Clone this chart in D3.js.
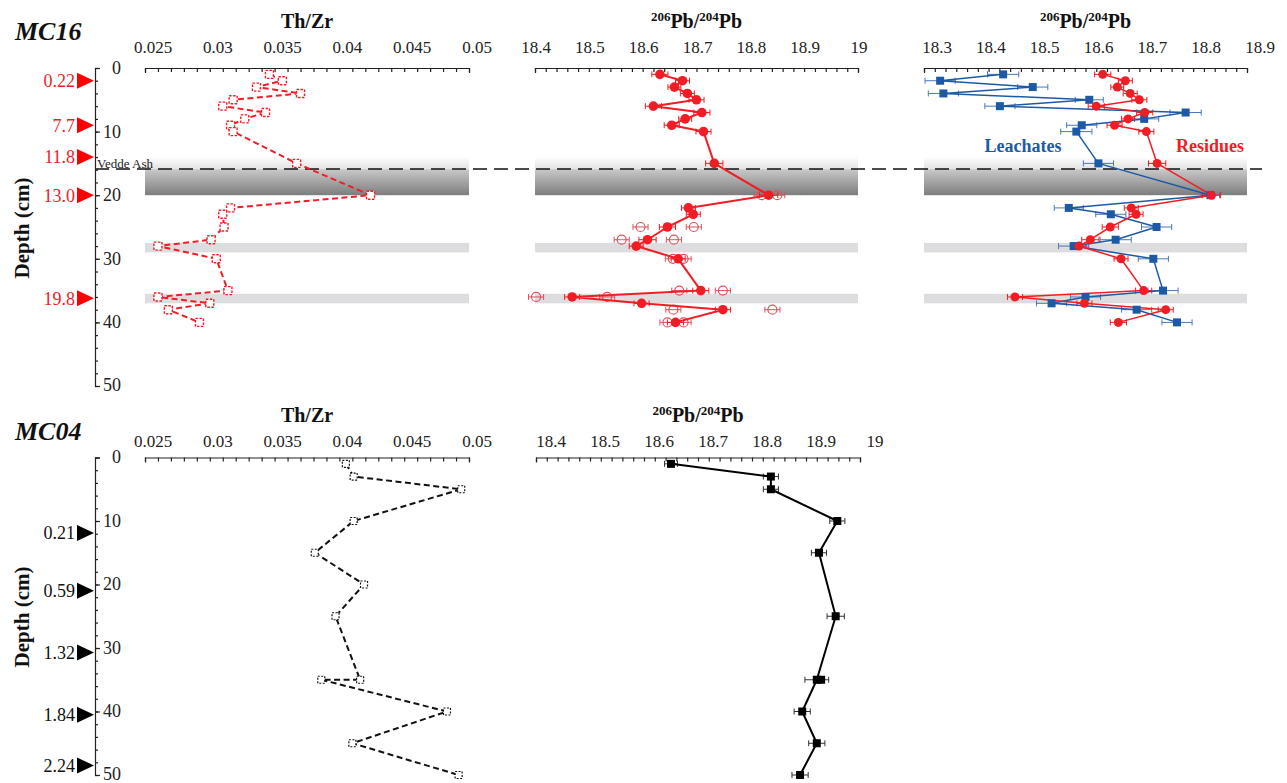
<!DOCTYPE html>
<html><head><meta charset="utf-8">
<script src="https://cdn.jsdelivr.net/npm/d3@7"></script>
<style>
body{margin:0;background:#fff}
svg{display:block}
text{font-family:"Liberation Serif","Times New Roman",serif}
</style>
</head><body>
<svg id="c" width="1287" height="783"></svg>
<script>
// ---------------- DATA ----------------
const depthTicks = [0, 10, 20, 30, 40, 50];
const depthMinor = [0,2,4,6,8,10,12,14,16,18,20,22,24,26,28,30,32,34,36,38,40,42,44,46,48,50];
const thzrTicks = [0.025, 0.03, 0.035, 0.04, 0.045, 0.05];
const thzrTickLabels = ["0.025", "0.03", "0.035", "0.04", "0.045", "0.05"];
const pbTicksA = [18.4, 18.5, 18.6, 18.7, 18.8, 18.9, 19];
const pbTickLabelsA = ["18.4", "18.5", "18.6", "18.7", "18.8", "18.9", "19"];
const pbTicksB = [18.3, 18.4, 18.5, 18.6, 18.7, 18.8, 18.9];
const pbTickLabelsB = ["18.3", "18.4", "18.5", "18.6", "18.7", "18.8", "18.9"];

// MC16
const mc16Depth = [1,2,3,4,5,6,7,8,9,10,15,20,22,23,25,27,28,30,35,36,37,38,40];
const mc16ThZr = [0.0346,0.0356,0.0336,0.0370,0.0318,0.0310,0.0343,0.0327,0.0316,0.0318,0.0367,0.0424,
                  0.0316,0.0310,0.0311,0.0301,0.0260,0.0305,0.0314,0.0260,0.0300,0.0268,0.0292];
const mc16Residue = [18.632,18.674,18.659,18.683,18.700,18.620,18.710,18.679,18.654,18.713,18.733,18.834,
                     18.685,18.694,18.646,18.609,18.588,18.666,18.708,18.469,18.598,18.749,18.661];
const mc16ResidueErr = [0.015,0.013,0.012,0.013,0.014,0.015,0.015,0.012,0.014,0.014,0.016,0.017,
                        0.013,0.013,0.015,0.016,0.013,0.013,0.015,0.014,0.014,0.014,0.015];
const mc16Leachate = [18.447,18.330,18.502,18.336,18.607,18.441,18.786,18.709,18.593,18.583,18.624,18.832,
                      18.569,18.647,18.732,18.656,18.578,18.726,18.744,18.600,18.537,18.695,18.770];
const mc16LeachateErr = [0.029,0.028,0.028,0.028,0.026,0.028,0.029,0.027,0.028,0.029,0.028,0.017,
                         0.027,0.028,0.028,0.029,0.028,0.028,0.028,0.028,0.028,0.028,0.028];
const mc16RepDepth = [20,20,25,25,27,27,30,30,35,35,36,36,38,38,40,40];
const mc16Replicate = [18.821,18.850,18.596,18.695,18.561,18.658,18.656,18.676,18.668,18.749,18.402,18.534,18.657,18.841,18.646,18.676];
const mc16AgeDepth = [2, 9, 14, 20, 36.2];
const mc16AgeLabels = ["0.22", "7.7", "11.8", "13.0", "19.8"];
const veddeBand = [13.9, 15.9, 20];       // top of fade, ash line, bottom
const greyBands = [[27.5, 29], [35.5, 37]];

// MC04
const mc04ThZrDepth = [1,3,5,10,15,20,25,35,35,40,45,50];
const mc04ThZr = [0.0405,0.0411,0.0494,0.0411,0.0381,0.0419,0.0397,0.0416,0.0386,0.0483,0.0410,0.0492];
const mc04PbDepth = [1,3,5,10,15,25,35,40,45,50];
const mc04Pb = [18.650,18.835,18.835,18.958,18.924,18.955,18.920,18.893,18.920,18.889];
const mc04PbErr = [0.012,0.014,0.014,0.014,0.014,0.016,0.022,0.015,0.015,0.015];
const mc04PbRepDepth = [35];
const mc04PbRep = [18.928];
const mc04AgeDepth = [11.9, 21, 30.7, 40.5, 48.5];
const mc04AgeLabels = ["0.21", "0.59", "1.32", "1.84", "2.24"];

// ---------------- DRAW ----------------
const svg = d3.select("#c");
const RED = "#f21c24", BLUE = "#1d5aa6";

const yTop = d3.scaleLinear().domain([0, 50]).range([68, 386]);
const yBot = d3.scaleLinear().domain([0, 50]).range([457.5, 775]);

const xThZrTop = d3.scaleLinear().domain([0.025, 0.05]).range([145, 469]);
const xPbTop = d3.scaleLinear().domain([18.4, 19]).range([535, 858]);
const xPbRight = d3.scaleLinear().domain([18.3, 18.9]).range([924, 1247]);
const xThZrBot = d3.scaleLinear().domain([0.025, 0.05]).range([145, 469]);
const xPbBot = d3.scaleLinear().domain([18.4, 19]).range([536, 860]);

const defs = svg.append("defs");
const g1 = defs.append("linearGradient").attr("id", "fadeTop").attr("x1", 0).attr("x2", 0).attr("y1", 0).attr("y2", 1);
g1.append("stop").attr("offset", "0%").attr("stop-color", "#ffffff");
g1.append("stop").attr("offset", "100%").attr("stop-color", "#e2e2e2");
const g2 = defs.append("linearGradient").attr("id", "fadeBot").attr("x1", 0).attr("x2", 0).attr("y1", 0).attr("y2", 1);
g2.append("stop").attr("offset", "0%").attr("stop-color", "#c9c9c9");
g2.append("stop").attr("offset", "100%").attr("stop-color", "#7d7d7d");

function bands(x) {
  const [a, b] = x.range();
  svg.append("rect").attr("x", a).attr("width", b - a)
    .attr("y", yTop(veddeBand[0])).attr("height", yTop(veddeBand[1]) - yTop(veddeBand[0]))
    .attr("fill", "url(#fadeTop)");
  svg.append("rect").attr("x", a).attr("width", b - a)
    .attr("y", yTop(veddeBand[1])).attr("height", yTop(veddeBand[2]) - yTop(veddeBand[1]))
    .attr("fill", "url(#fadeBot)");
  greyBands.forEach(([d0, d1]) => {
    svg.append("rect").attr("x", a).attr("width", b - a)
      .attr("y", yTop(d0)).attr("height", yTop(d1) - yTop(d0)).attr("fill", "#dddddf");
  });
}
bands(xThZrTop); bands(xPbTop); bands(xPbRight);

// Vedde Ash line
svg.append("line").attr("x1", 95).attr("x2", 1262)
  .attr("y1", yTop(veddeBand[1])).attr("y2", yTop(veddeBand[1]))
  .attr("stroke", "#111").attr("stroke-width", 1.5).attr("stroke-dasharray", "14,7");
svg.append("text").attr("x", 97).attr("y", yTop(veddeBand[1]) - 1.5)
  .attr("font-size", 13).attr("fill", "#222").text("Vedde Ash");

// X axes
function xAxis(x, ticks, labels, yAxisLine, labelY, minorStep, dx, title, titleY, isPb) {
  const [d0, d1] = x.domain();
  const minor = d3.range(Math.round((d1 - d0) / minorStep) + 1).map(i => d0 + i * minorStep);
  svg.append("g").attr("transform", `translate(0,${yAxisLine})`)
    .call(d3.axisBottom(x).tickValues(minor).tickSize(4).tickSizeOuter(5).tickFormat(""))
    .call(g => g.selectAll("path,line").attr("stroke", "#222").attr("stroke-width", 1.2));
  svg.append("g").selectAll("text").data(ticks).join("text")
    .attr("x", (d) => x(d) + dx).attr("y", labelY)
    .attr("text-anchor", "middle").attr("font-size", 17).attr("fill", "#222")
    .text((d, i) => labels[i]);
  const cx = (x.range()[0] + x.range()[1]) / 2;
  const t = svg.append("text").attr("x", cx).attr("y", titleY).attr("text-anchor", "middle")
    .attr("font-weight", "bold").attr("font-size", 20).attr("fill", "#111");
  if (isPb) {
    t.append("tspan").attr("font-size", 13).attr("dy", -7).text("206");
    t.append("tspan").attr("font-size", 20).attr("dy", 7).text("Pb/");
    t.append("tspan").attr("font-size", 13).attr("dy", -7).text("204");
    t.append("tspan").attr("font-size", 20).attr("dy", 7).text("Pb");
  } else {
    t.text(title);
  }
}
xAxis(xThZrTop, thzrTicks, thzrTickLabels, 68, 53, 0.001, 8, "Th/Zr", 28, false);
xAxis(xPbTop, pbTicksA, pbTickLabelsA, 68, 53, 0.02, 1, "", 28, true);
xAxis(xPbRight, pbTicksB, pbTickLabelsB, 68, 53, 0.02, 13, "", 28, true);
xAxis(xThZrBot, thzrTicks, thzrTickLabels, 457.5, 447, 0.001, 8, "Th/Zr", 422, false);
xAxis(xPbBot, pbTicksA, pbTickLabelsA, 457.5, 447, 0.02, 15, "", 422, true);

// Y axes
function yAxis(y, ageDepth, ageLabels, ageColor, triColor, name, nameY, depthCy) {
  svg.append("g").attr("transform", "translate(95,0)")
    .call(d3.axisRight(y).tickValues(depthMinor).tickSize(3).tickSizeOuter(5).tickFormat(""))
    .call(g => g.selectAll("path,line").attr("stroke", "#222").attr("stroke-width", 1.2));
  svg.append("g").attr("transform", "translate(95,0)")
    .call(d3.axisRight(y).tickValues(depthTicks).tickSize(5).tickSizeOuter(0).tickFormat(""))
    .call(g => g.select("path").remove())
    .call(g => g.selectAll("line").attr("stroke", "#222").attr("stroke-width", 1.2));
  svg.append("g").selectAll("text").data(depthTicks).join("text")
    .attr("x", 121).attr("y", d => y(d)).attr("dy", d => d === 50 ? "0.25em" : "0.33em")
    .attr("text-anchor", "end").attr("font-size", 18).attr("fill", "#222").text(d => d);
  // age triangles
  svg.append("g").selectAll("path").data(ageDepth).join("path")
    .attr("d", d => `M${94},${y(d)} L${77},${y(d) - 8} L${77},${y(d) + 8} Z`)
    .attr("fill", triColor);
  svg.append("g").selectAll("text").data(ageDepth).join("text")
    .attr("x", 75).attr("y", d => y(d)).attr("dy", "0.35em")
    .attr("text-anchor", "end").attr("font-size", 18).attr("fill", ageColor)
    .text((d, i) => ageLabels[i]);
  svg.append("text").attr("x", 15).attr("y", nameY)
    .attr("font-size", 26).attr("font-weight", "bold").attr("font-style", "italic").attr("fill", "#111")
    .text(name);
  svg.append("text").attr("transform", `translate(29,${depthCy}) rotate(-90)`)
    .attr("text-anchor", "middle").attr("font-size", 21).attr("font-weight", "bold").attr("fill", "#111")
    .text("Depth (cm)");
}
yAxis(yTop, mc16AgeDepth, mc16AgeLabels, RED, "#ff0000", "MC16", 40, 228);
yAxis(yBot, mc04AgeDepth, mc04AgeLabels, "#111", "#000", "MC04", 440, 617);

// helpers
function errBars(x, y, depths, vals, errs, color, w) {
  const g = svg.append("g").attr("stroke", color).attr("stroke-width", w).attr("fill", "none");
  depths.forEach((d, i) => {
    const yy = y(d), a = x(vals[i] - errs[i]), b = x(vals[i] + errs[i]);
    g.append("line").attr("x1", a).attr("x2", b).attr("y1", yy).attr("y2", yy);
    g.append("line").attr("x1", a).attr("x2", a).attr("y1", yy - 3).attr("y2", yy + 3);
    g.append("line").attr("x1", b).attr("x2", b).attr("y1", yy - 3).attr("y2", yy + 3);
  });
}
function pathLine(x, y, depths, vals, color, w, dash) {
  const line = d3.line().x((d, i) => x(vals[i])).y(d => y(d));
  svg.append("path").attr("d", line(depths)).attr("fill", "none")
    .attr("stroke", color).attr("stroke-width", w).attr("stroke-dasharray", dash || null)
    .attr("stroke-linejoin", "round");
}
function squares(x, y, depths, vals, size, fill, stroke, sw, dash) {
  svg.append("g").selectAll("rect").data(depths).join("rect")
    .attr("x", (d, i) => x(vals[i]) - size / 2).attr("y", d => y(d) - size / 2)
    .attr("width", size).attr("height", size)
    .attr("fill", fill).attr("stroke", stroke).attr("stroke-width", sw)
    .attr("stroke-dasharray", dash || null);
}
function circles(x, y, depths, vals, r, fill, stroke, sw) {
  svg.append("g").selectAll("circle").data(depths).join("circle")
    .attr("cx", (d, i) => x(vals[i])).attr("cy", d => y(d)).attr("r", r)
    .attr("fill", fill).attr("stroke", stroke).attr("stroke-width", sw);
}

// MC16 Th/Zr
pathLine(xThZrTop, yTop, mc16Depth, mc16ThZr, RED, 2, "6,3.5");
squares(xThZrTop, yTop, mc16Depth, mc16ThZr, 8, "#fff", RED, 1.4, "2.5,1.5");

// MC16 middle Pb (residues + replicates)
const repErr = mc16RepDepth.map(() => 0.014);
errBars(xPbTop, yTop, mc16RepDepth, mc16Replicate, repErr, "#e0505a", 1);
circles(xPbTop, yTop, mc16RepDepth, mc16Replicate, 4.5, "none", "#e0505a", 1.2);
errBars(xPbTop, yTop, mc16Depth, mc16Residue, mc16ResidueErr, RED, 1);
pathLine(xPbTop, yTop, mc16Depth, mc16Residue, RED, 2);
circles(xPbTop, yTop, mc16Depth, mc16Residue, 4.8, RED, "none", 0);

// MC16 right: leachates + residues
errBars(xPbRight, yTop, mc16Depth, mc16Leachate, mc16LeachateErr, "#4a78b8", 1);
errBars(xPbRight, yTop, mc16Depth, mc16Residue, mc16ResidueErr, RED, 1);
pathLine(xPbRight, yTop, mc16Depth, mc16Leachate, BLUE, 1.5);
pathLine(xPbRight, yTop, mc16Depth, mc16Residue, RED, 1.5);
squares(xPbRight, yTop, mc16Depth, mc16Leachate, 8, BLUE, "none", 0);
circles(xPbRight, yTop, mc16Depth, mc16Residue, 4.5, RED, "none", 0);
svg.append("text").attr("x", 1023).attr("y", 152).attr("text-anchor", "middle")
  .attr("font-size", 18).attr("font-weight", "bold").attr("fill", BLUE).text("Leachates");
svg.append("text").attr("x", 1210).attr("y", 152).attr("text-anchor", "middle")
  .attr("font-size", 18).attr("font-weight", "bold").attr("fill", RED).text("Residues");

// MC04 Th/Zr
pathLine(xThZrBot, yBot, mc04ThZrDepth, mc04ThZr, "#111", 2, "6,3.5");
squares(xThZrBot, yBot, mc04ThZrDepth, mc04ThZr, 7, "#fff", "#111", 1.2, "2,1.5");

// MC04 Pb
errBars(xPbBot, yBot, mc04PbDepth, mc04Pb, mc04PbErr, "#333", 1);
pathLine(xPbBot, yBot, mc04PbDepth, mc04Pb, "#000", 2);
squares(xPbBot, yBot, mc04PbRepDepth, mc04PbRep, 8, "#000", "none", 0);
squares(xPbBot, yBot, mc04PbDepth, mc04Pb, 8, "#000", "none", 0);
</script>
</body></html>
